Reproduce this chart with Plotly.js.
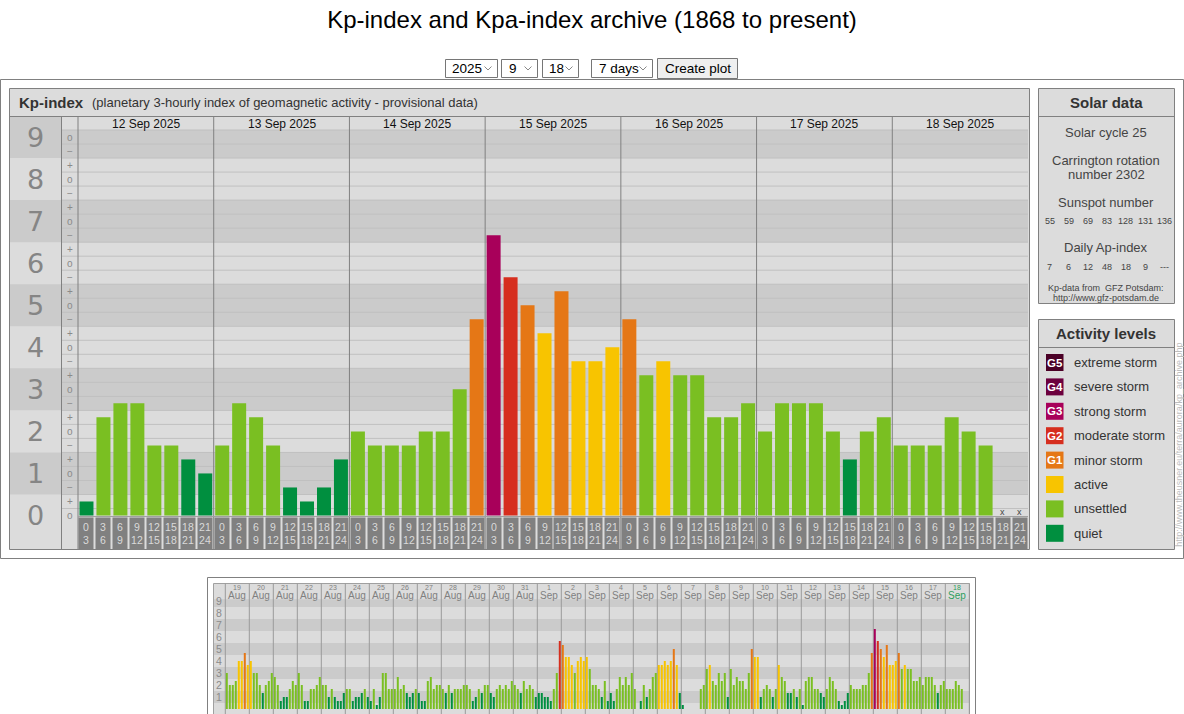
<!DOCTYPE html>
<html><head><meta charset="utf-8">
<script src="https://cdn.plot.ly/plotly-3.0.1.min.js"></script>
<style>html,body{margin:0;padding:0;background:#fff;overflow:hidden}#chart{width:1184px;height:714px}</style>
</head><body><div id="chart"></div>
<script>
// ---------------- data ----------------
const year = 2025;
const augDays = [19,20,21,22,23,24,25,26,27,28,29,30,31];
const sepDays = [1,2,3,4,5,6,7,8,9,10,11,12,13,14,15,16,17,18];
// Kp values, 8 three-hour intervals per day ("x" = not yet available)
const kpAug = [
  '3o 2o 2o 2+ 4o 4o 5- 4-', // 19
  '4o 3o 3o 2o 1+ 2o 2+ 3o', // 20
  '3- 2o 1- 1o 1o 2- 2+ 2o', // 21
  '3o 2o 1- 1- 2- 2- 2o 3-', // 22
  '2o 2o 1o 2- 1o 1- 1- 1+', // 23
  '2- 2- 1- 1o 1o 1+ 2- 1o', // 24
  '1- 2- 0+ 1o 3o 3o 2- 2-', // 25
  '2- 3- 2- 2o 1+ 1o 1+ 2-', // 26
  '1+ 1- 1- 2+ 3- 2- 2o 2o', // 27
  '2- 1+ 2o 1+ 2- 2- 2- 2o', // 28
  '2o 2- 1- 1o 2- 1+ 2o 2o', // 29
  '1+ 1o 2- 2o 2- 2o 2- 2+', // 30
  '2o 2- 1+ 2+ 2- 2o 2- 1o'  // 31
];
const kpSep = [
  '1+ 1+ 1o 1o 1- 2- 3o 6-', // 1
  '5+ 4+ 4+ 4- 3o 4o 4+ 4o', // 2
  '4+ 3+ 2o 2o 2- 1o 2+ 1-', // 3
  '1+ 1- 2- 3- 2o 3- 2o 3o', // 4
  '2- 0o 1- 2o 1o 2- 3- 3o', // 5
  '4- 4- 4o 4- 4o 5o 4- 1+', // 6
  '0+ 0o 0o 0o 0o 0o 2- 2o', // 7
  '3+ 4- 2+ 2o 3o 2+ 3o 1o', // 8
  '3+ 2o 3- 2+ 2+ 2- 3o 5o', // 9
  '4+ 4+ 1o 2- 2o 2- 1o 2-', // 10
  '4- 3- 2+ 1+ 1+ 2- 1o 2-', // 11
  '0+ 2+ 3- 3- 2- 2- 1+ 1o', // 12
  '2- 3- 2+ 2- 1- 0+ 1- 1+', // 13
  '2o 2- 2- 2- 2o 2o 3o 5-', // 14
  '7- 6- 5o 4+ 5+ 4- 4- 4o', // 15
  '5- 3+ 4- 3+ 3+ 2+ 2+ 3-', // 16
  '2o 3- 3- 3- 2o 1+ 2o 2+', // 17
  '2- 2- 2- 2+ 2o 2- x x'    // 18
];
const hourLabels = ['0<br>3','3<br>6','6<br>9','9<br>12','12<br>15','15<br>18','18<br>21','21<br>24'];
const bigTicks = [0,1,2,3,4,5,6,7,8,9];
const solarCycle = 25;
const carrington = 2302;
const sunspotNumbers = ['55','59','69','83','128','131','136'];
const dailyAp = ['7','6','12','48','18','9','---'];
const levelNames  = ['extreme storm','severe storm','strong storm','moderate storm','minor storm','active','unsettled','quiet'];
const levelTags   = ['G5','G4','G3','G2','G1','','',''];
const levelColors = ['#4a0026','#6c003e','#a8005a','#d62e1e','#e57716','#f8c400','#7abf22','#008f3f'];
const levelTop    = [27,26,22,19,16,13,10,4]; // highest Kp (in thirds) for each level

// ---------------- helpers ----------------
const W = 1184, H = 714;
const PX = x => x / W, PY = y => 1 - y / H;
const FONT = 'Liberation Sans, Arial, sans-serif';
function thirds(s){ if (s === 'x') return null; const d = parseInt(s[0],10); const m = s.slice(1); return 3*d + (m === '+' ? 1 : (m === '-' ? -1 : 0)); }
function colorFor(t){ let c = levelColors[0]; for (let i = levelTop.length-1; i >= 0; i--) { if (t <= levelTop[i]) { c = levelColors[i]; break; } } return c; }

const shapes = [], ann = [];
function rect(x0,y0,x1,y1,fill,line,lw){ shapes.push({type:'rect',xref:'paper',yref:'paper',x0:PX(x0),x1:PX(x1),y0:PY(y1),y1:PY(y0),fillcolor:fill||'rgba(0,0,0,0)',line:{color:line||'rgba(0,0,0,0)',width:line?(lw||1):0},layer:'below'}); }
function hline(x0,x1,y,c,w){ shapes.push({type:'line',xref:'paper',yref:'paper',x0:PX(x0),x1:PX(x1),y0:PY(y),y1:PY(y),line:{color:c,width:w||1},layer:'below'}); }
function vline(x,y0,y1,c,w){ shapes.push({type:'line',xref:'paper',yref:'paper',x0:PX(x),x1:PX(x),y0:PY(y0),y1:PY(y1),line:{color:c,width:w||1},layer:'below'}); }
function txt(x,y,text,size,color,opts){ ann.push(Object.assign({xref:'paper',yref:'paper',x:PX(x),y:PY(y),text:text,showarrow:false,font:{family:FONT,size:size,color:color},xanchor:'center',yanchor:'middle'},opts||{})); }

// ---------------- main chart geometry ----------------
const mainKp = kpSep.slice(-7);
const mainDays = sepDays.slice(-7);
const mainVals = mainKp.flatMap(s => s.split(' ').map(thirds));
const nMain = mainVals.length;
const MX0 = 78, MX1 = 1028, MYT = 130, MYB = 516;
const MR0 = -0.5/14, MR1 = 27.5;
const tY = t => MYB - (t - MR0) / (MR1 - MR0) * (MYB - MYT);
const slotW = (MX1 - MX0) / nMain;

const DARK = '#cbcbcb', LIGHT = '#dcdcdc', GRID = '#c0c0c0', BORDER = '#808080';

// frames
rect(0.5,79.5,1183.5,558.5,'#ffffff',BORDER);
rect(9.5,88.5,1029.5,549.5,LIGHT,BORDER);
hline(9.5,1029.5,116.5,BORDER);
// bands
bigTicks.forEach(k => {
  if (k % 2 === 1) {
    const yt = Math.max(tY(3*k+1.5), MYT), yb = Math.min(tY(3*k-1.5), MYB);
    rect(61, yt, MX1, yb, DARK);
    rect(10, k === 9 ? 117 : tY(3*k+1.5), 61, tY(3*k-1.5), DARK);
  }
});
// grid lines between thirds
for (let t = 0; t <= 27; t++) hline(61, MX1, tY(t+0.5), GRID);
// vertical structure
vline(61.5,116.5,549,BORDER);
vline(78,116.5,549,BORDER);
for (let d = 1; d < mainDays.length; d++) vline(MX0 + d*8*slotW, 116.5, 549, BORDER);
hline(MX0, MX1, 516.5, '#a0a0a0');

// big Kp labels
bigTicks.forEach(k => ann.push({xref:'paper',yref:'y',x:PX(35.5),y:3*k,text:String(k),showarrow:false,font:{family:'DejaVu Sans, sans-serif',size:27,color:'#858585'},xanchor:'center',yanchor:'middle'}));
// small third labels
for (let t = 0; t <= 27; t++) {
  const m = t % 3; const s = m === 0 ? 'o' : (m === 1 ? '+' : '−');
  ann.push({xref:'paper',yref:'y',x:PX(69.5),y:t,text:s,showarrow:false,font:{family:FONT,size:10,color:'#8a8a8a'},xanchor:'center',yanchor:'middle'});
}
// date headers
mainDays.forEach((d,i) => ann.push({xref:'x',yref:'paper',x:8*i+3.5,y:PY(123.5),text:d+' Sep '+year,showarrow:false,font:{family:FONT,size:12,color:'#111'},xanchor:'center',yanchor:'middle'}));
// time boxes
mainVals.forEach((v,i) => {
  ann.push({xref:'x',yref:'paper',x:i,y:PY(533),text:hourLabels[i%8],showarrow:false,bgcolor:'#808080',width:14,height:31,borderpad:0,
    font:{family:FONT,size:10.5,color:'#dadada'},xanchor:'center',yanchor:'middle',align:'center',valign:'middle'});
  if (v === null) ann.push({xref:'x',yref:'y',x:i,y:0.28,text:'x',showarrow:false,font:{family:FONT,size:9,color:'#444'},xanchor:'center',yanchor:'middle'});
});
// header text
txt(17,102.5,'<b>Kp-index</b>',15,'#333',{xanchor:'left'});
txt(90,102.5,'(planetary 3-hourly index of geomagnetic activity - provisional data)',13,'#333',{xanchor:'left'});

// ---------------- right panels ----------------
const RC = 1106;
rect(1038.5,88.5,1174.5,303.5,LIGHT,BORDER);
hline(1038.5,1174.5,116.5,BORDER);
txt(RC,103,'<b>Solar data</b>',15,'#333');
txt(RC,132,'Solar cycle '+solarCycle,13,'#444');
txt(RC,160,'Carrington rotation',13,'#444');
txt(RC,174.5,'number '+carrington,13,'#444');
txt(RC,202,'Sunspot number',13,'#444');
sunspotNumbers.forEach((s,i) => txt(1049.5 + i*19.1, 221, s, 9, '#444'));
txt(RC,247,'Daily Ap-index',13,'#444');
dailyAp.forEach((s,i) => txt(1049.5 + i*19.1, 267, s, 9, '#444'));
txt(RC,287.5,'Kp-data from  GFZ Potsdam:',9,'#444');
txt(RC,297.5,'http://www.gfz-potsdam.de',9,'#444');

rect(1038.5,319.5,1174.5,549.5,LIGHT,BORDER);
hline(1038.5,1174.5,347.5,BORDER);
txt(RC,333.5,'<b>Activity levels</b>',15,'#333');
levelNames.forEach((n,i) => {
  const cy = 362.5 + i*24.4;
  rect(1046,cy-8.5,1063.5,cy+8.5,levelColors[i]);
  if (levelTags[i]) txt(1054.8,cy,'<b>'+levelTags[i]+'</b>',11.5,'#ffffff');
  txt(1072,cy,n,13,'#333',{xanchor:'left'});
});
txt(1178.7,445,'http://www.theusner.eu/terra/aurora/kp_archive.php',9,'#bdbdbd',{textangle:-90});

// ---------------- controls ----------------
function selectBox(x0,x1,label,tx){
  rect(x0+0.5,59.5,x1+0.5,77.5,'#ffffff','#767676');
  txt(tx,68.5,label,13.5,'#000',{xanchor:'left'});
  const ax = x1 - 9;
  shapes.push({type:'path',xref:'paper',yref:'paper',path:`M${PX(ax-3.5)},${PY(66.5)} L${PX(ax)},${PY(70)} L${PX(ax+3.5)},${PY(66.5)}`,line:{color:'#888',width:1},layer:'below'});
}
selectBox(445,497,String(year),450);
selectBox(501,537,'9',507);
selectBox(542,578,'18',547);
selectBox(591,652,'7 days',597);
rect(657.5,58.5,737.5,78.5,'#efefef','#767676');
txt(697.5,68.5,'Create plot',13.5,'#000');

// ---------------- mini chart ----------------
const miniKp = kpAug.concat(kpSep);
const miniVals = miniKp.flatMap(s => s.split(' ').map(thirds));
const miniDayNum = augDays.concat(sepDays);
const miniMon = augDays.map(() => 'Aug').concat(sepDays.map(() => 'Sep'));
const NX0 = 225.3, NX1 = 969.3, NYT = 599.3, NYB = 714;
const NR0 = -1.25, NR1 = 27.425;
const vY = t => NYB - (t - NR0) / (NR1 - NR0) * (NYB - NYT);
const nDayW = (NX1 - NX0) / miniDayNum.length;
rect(207.5,577.5,975.5,740,'#ffffff',BORDER);
rect(213.5,583.5,969.5,740,LIGHT,'#a0a0a0');
bigTicks.forEach(k => { if (k % 2 === 1) rect(214, Math.max(vY(3*k+1.5), NYT), 969, vY(3*k-1.5), DARK); });
for (let d = 0; d <= miniDayNum.length; d++) vline(NX0 + d*nDayW, 583.5, 714, '#9a9a9a');
bigTicks.forEach(k => { if (k > 0) ann.push({xref:'paper',yref:'y2',x:PX(219),y:3*k,text:String(k),showarrow:false,font:{family:FONT,size:10.5,color:'#8a8a8a'},xanchor:'center',yanchor:'middle'}); });
miniDayNum.forEach((d,i) => {
  const last = i === miniDayNum.length - 1;
  const c = last ? '#2f9e5c' : '#808080';
  ann.push({xref:'x2',yref:'paper',x:8*i+3.5,y:PY(587.5),text:String(d),showarrow:false,font:{family:FONT,size:7,color:c},xanchor:'center',yanchor:'middle'});
  ann.push({xref:'x2',yref:'paper',x:8*i+3.5,y:PY(595.5),text:miniMon[i],showarrow:false,font:{family:FONT,size:10,color:c},xanchor:'center',yanchor:'middle'});
});

// ---------------- traces ----------------
const traces = [
  {type:'bar', x: mainVals.map((_,i) => i), y: mainVals, xaxis:'x', yaxis:'y',
   marker:{color: mainVals.map(v => v === null ? 'rgba(0,0,0,0)' : colorFor(v)), line:{width:0}}, hoverinfo:'skip'},
  {type:'bar', x: miniVals.map((_,i) => i), y: miniVals, xaxis:'x2', yaxis:'y2',
   marker:{color: miniVals.map(v => v === null ? 'rgba(0,0,0,0)' : colorFor(v)), line:{width:0}}, hoverinfo:'skip'}
];

const layout = {
  width: W, height: H, margin:{l:0,r:0,t:0,b:0,pad:0},
  paper_bgcolor:'#ffffff', plot_bgcolor:'rgba(0,0,0,0)',
  showlegend:false, hovermode:false, bargap:0.175,
  title:{text:'Kp-index and Kpa-index archive (1868 to present)', font:{family:FONT,size:24,color:'#000'}, x:0.5, xanchor:'center', y:PY(20), yanchor:'middle', yref:'container'},
  xaxis:{domain:[PX(MX0),PX(MX1)], range:[-0.5, nMain-0.5], visible:false, fixedrange:true},
  yaxis:{domain:[PY(MYB),PY(MYT)], range:[MR0, MR1], visible:false, fixedrange:true},
  xaxis2:{domain:[PX(NX0),PX(NX1)], range:[-0.5, miniVals.length-0.5], visible:false, fixedrange:true, anchor:'y2'},
  yaxis2:{domain:[0,PY(NYT)], range:[NR0, NR1], visible:false, fixedrange:true, anchor:'x2'},
  shapes: shapes, annotations: ann
};
// narrower bars for the overview chart
traces[1].width = miniVals.map(() => 0.667);
Plotly.newPlot('chart', traces, layout, {staticPlot:true, displayModeBar:false});
</script>
</body></html>
